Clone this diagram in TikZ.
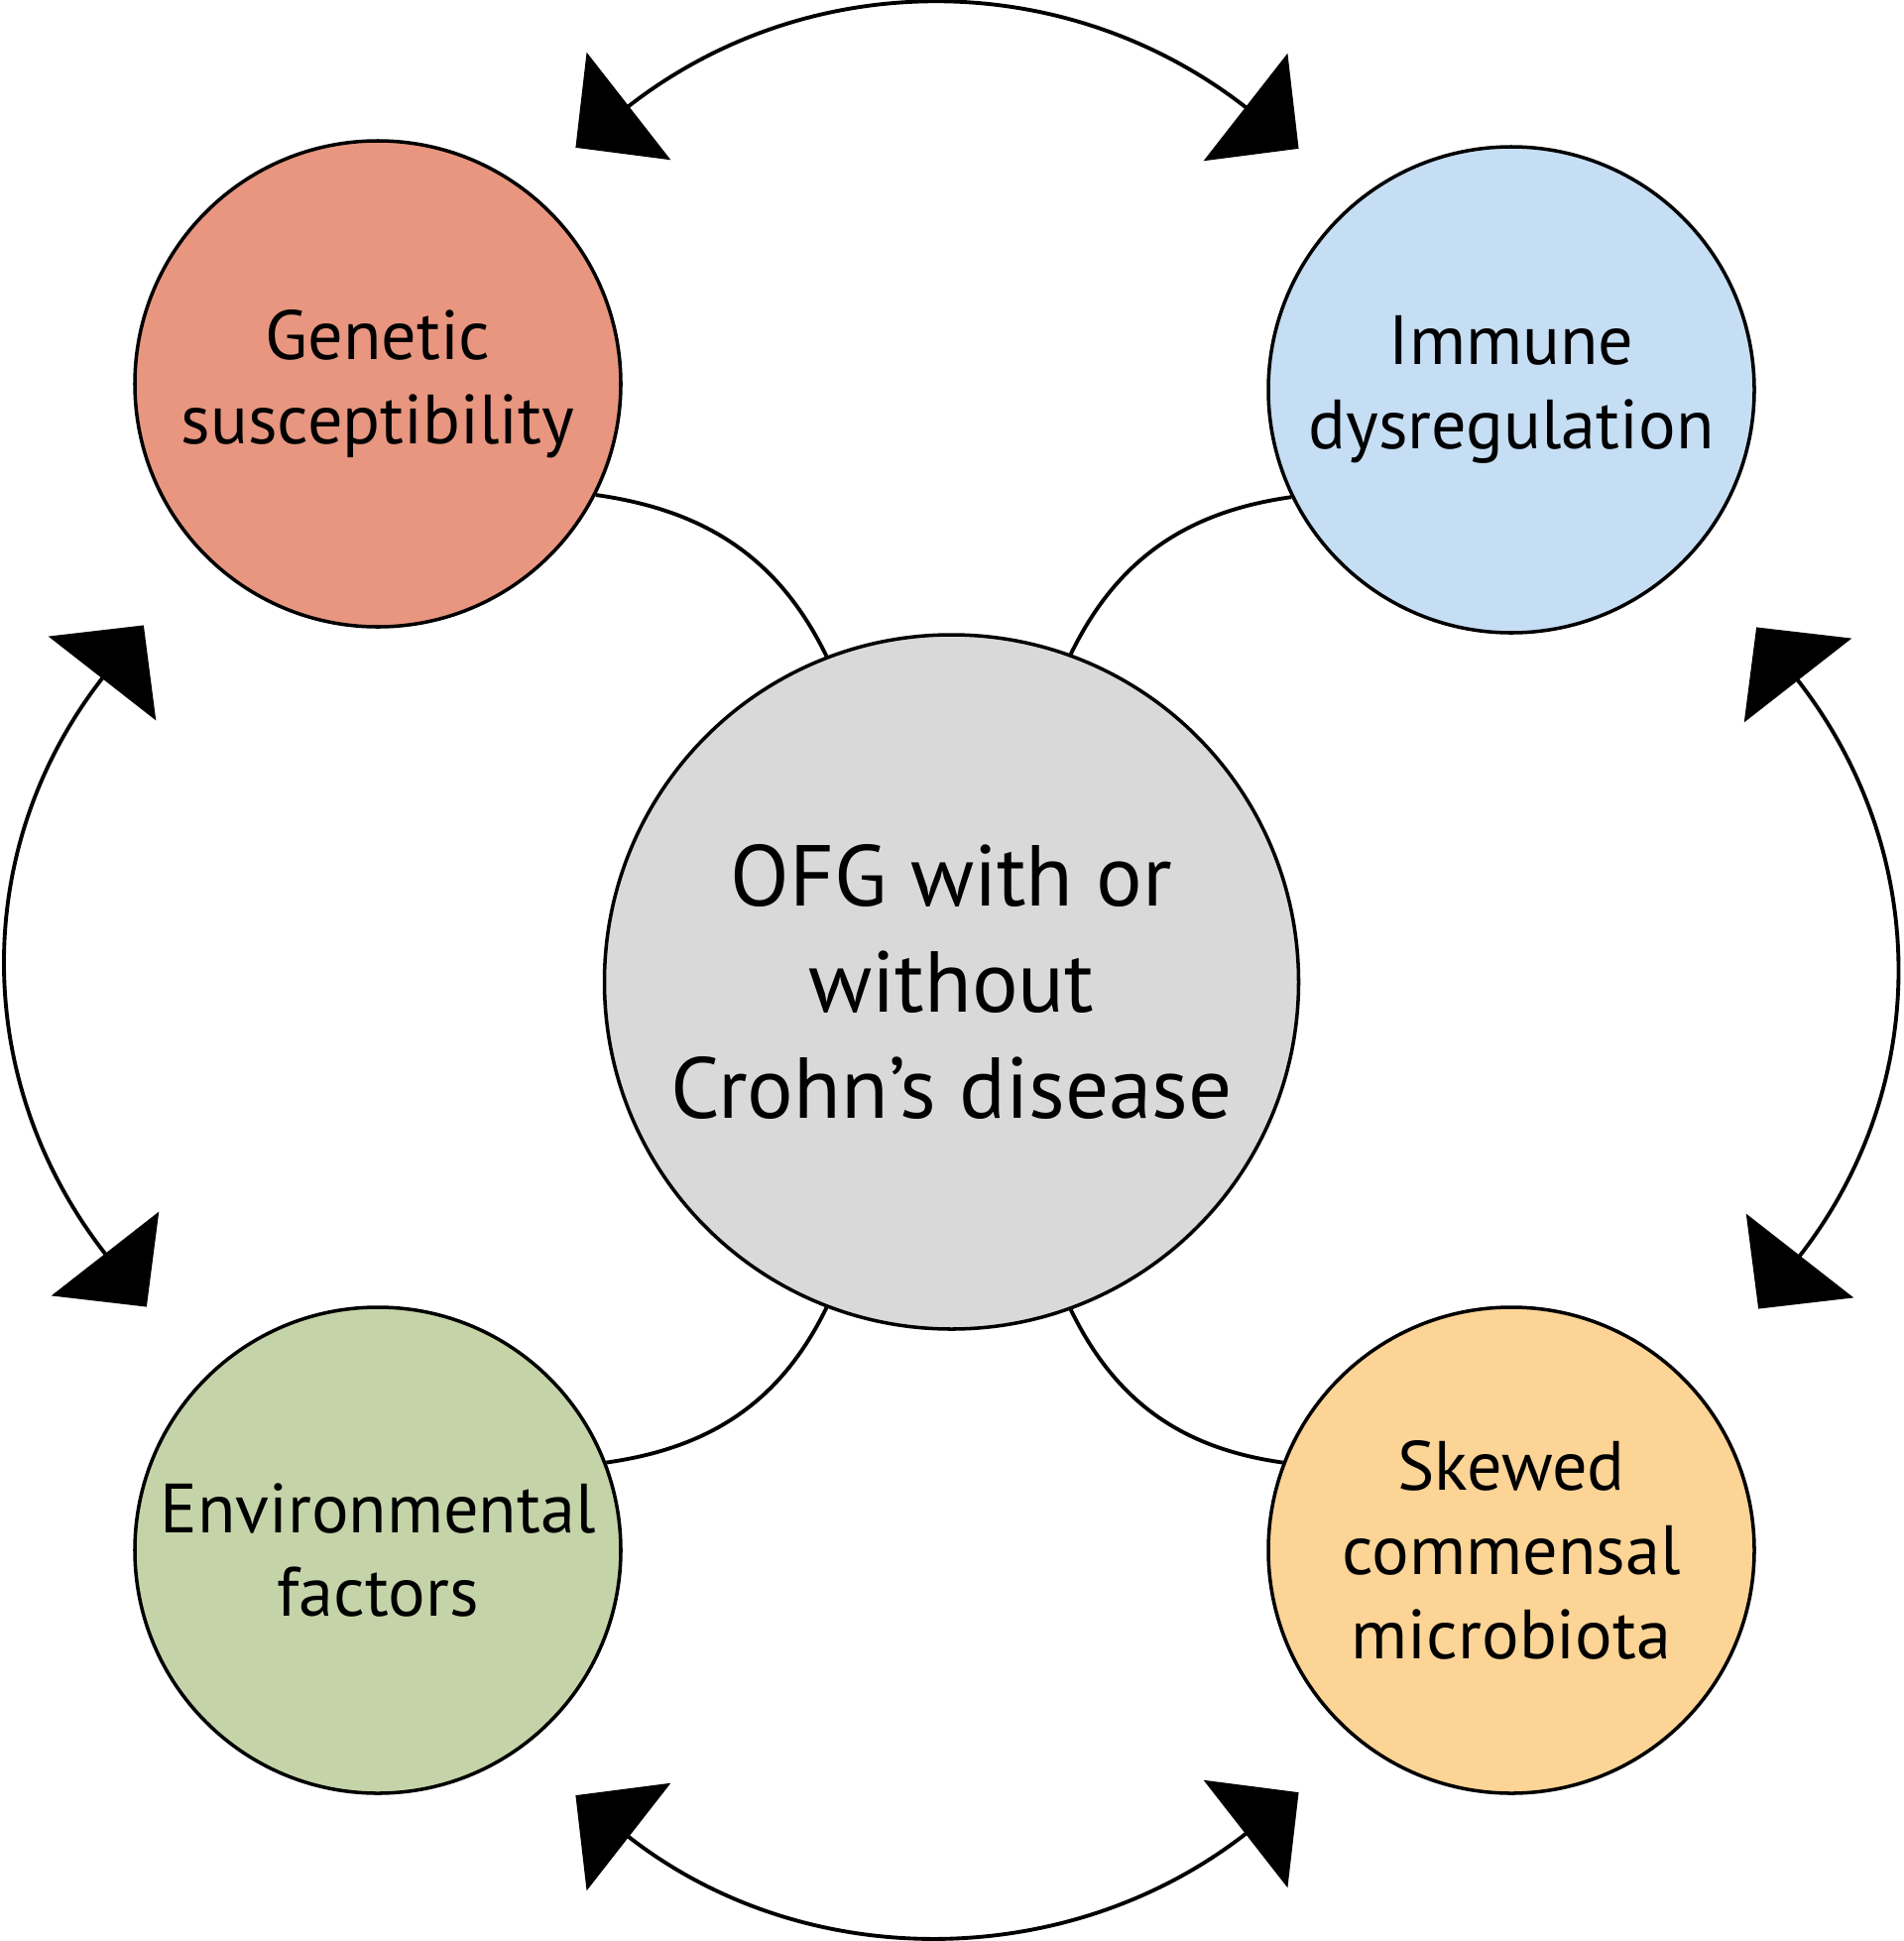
\documentclass[tikz,border=0pt]{standalone}
\usepackage{fontspec}
\setmainfont{PT Sans}
\usepackage{tikz}
\usetikzlibrary{arrows.meta}
\definecolor{genred}{RGB}{232,150,128}
\definecolor{immblue}{RGB}{197,222,244}
\definecolor{ofggray}{RGB}{217,217,217}
\definecolor{envgreen}{RGB}{197,212,168}
\definecolor{skworange}{RGB}{251,212,150}
\tikzset{
    bubble/.style={circle, draw=black, line width=1pt, align=center, inner sep=0pt,
        minimum size=4.9cm, font=\fontsize{20}{24.1}\selectfont},
    link/.style={line width=1.1pt},
    twoway/.style={line width=1.1pt, shorten <=-6.8mm, shorten >=-6.8mm,
        {Triangle[length=6.8mm, width=13.7mm]}-{Triangle[length=6.8mm, width=13.7mm]}}
}

\begin{document}
\begin{tikzpicture}
  \useasboundingbox (0,0) rectangle (19.2,-19.57);
  \node[bubble, fill=ofggray, minimum size=7cm, font=\fontsize{24.8}{30.4}\selectfont] (ofg) at (9.595,-9.90) {OFG with or\\without\\Crohn’s disease};
  \node[bubble, fill=genred] (gen) at (3.81,-3.87) {Genetic\\susceptibility};
  \node[bubble, fill=immblue] (imm) at (15.24,-3.93) {Immune\\dysregulation};
  \node[bubble, fill=envgreen] (env) at (3.81,-15.63) {Environmental\\factors};
  \node[bubble, fill=skworange] (skw) at (15.24,-15.63) {Skewed\\commensal\\microbiota};

  \draw[link] (gen.-27) to[out=-8, in=116] (ofg.111);
  \draw[link] (imm.206) to[out=188, in=64] (ofg.70);
  \draw[link] (env.21) to[out=8, in=-116] (ofg.-111);
  \draw[link] (skw.159) to[out=172, in=-64] (ofg.-70);

  \coordinate (topL) at (6.34,-1.07);
  \coordinate (topR) at (12.56,-1.08);
  \coordinate (botL) at (6.34,-18.52);
  \coordinate (botR) at (12.56,-18.49);
  \coordinate (lftT) at (1.03,-6.84);
  \coordinate (lftB) at (1.06,-12.64);
  \coordinate (rgtT) at (18.13,-6.86);
  \coordinate (rgtB) at (18.15,-12.66);
  \draw[twoway] (topL) to[out=38, in=142, looseness=0.95] (topR);
  \draw[twoway] (botL) to[out=-38, in=-142, looseness=0.93] (botR);
  \draw[twoway] (lftT) to[out=-128, in=128, looseness=0.96] (lftB);
  \draw[twoway] (rgtT) to[out=-52, in=52, looseness=0.96] (rgtB);
\end{tikzpicture}
\end{document}
